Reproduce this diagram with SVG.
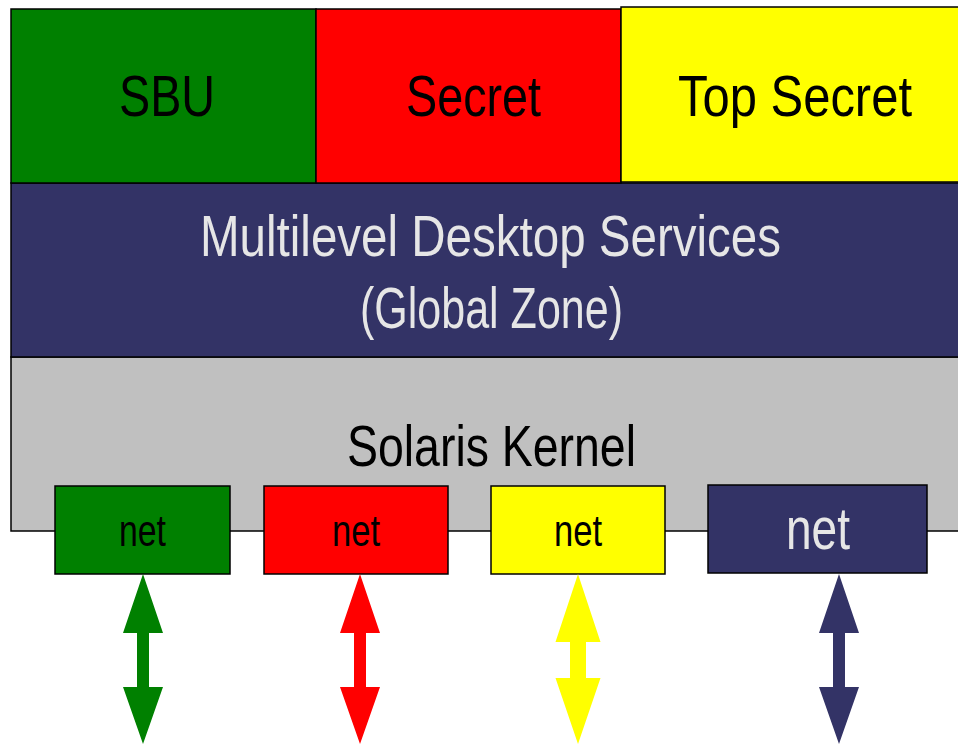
<svg xmlns="http://www.w3.org/2000/svg" width="958" height="744" viewBox="0 0 958 744">
<style>
.box{stroke:#000;stroke-width:1.5}
.t{font-family:"Liberation Sans",Arial,sans-serif;text-anchor:middle}
.dark{fill:#000}
.light{fill:#e6e6e6}
</style>
<rect width="958" height="744" fill="#fff"/>
<g id="kernel">
<rect class="box" x="11" y="357" width="960" height="174" fill="#c0c0c0"/>
<text class="t dark" x="491.5" y="466" font-size="58" textLength="289" lengthAdjust="spacingAndGlyphs">Solaris Kernel</text>
</g>
<g id="desktop">
<rect class="box" x="11" y="183" width="960" height="174" fill="#333366"/>
<text class="t light" x="490.5" y="256" font-size="58" textLength="581" lengthAdjust="spacingAndGlyphs">Multilevel Desktop Services</text>
<text class="t light" x="491.5" y="328" font-size="58" textLength="263" lengthAdjust="spacingAndGlyphs">(Global Zone)</text>
</g>
<g id="sbu">
<rect class="box" x="11" y="9" width="305" height="174" fill="#008000"/>
<text class="t dark" x="167" y="116" font-size="58" textLength="96" lengthAdjust="spacingAndGlyphs">SBU</text>
</g>
<g id="secret">
<rect class="box" x="316" y="9" width="305" height="174" fill="#ff0000"/>
<text class="t dark" x="473.5" y="116" font-size="58" textLength="135" lengthAdjust="spacingAndGlyphs">Secret</text>
</g>
<g id="topsecret">
<rect class="box" x="621" y="7" width="350" height="175" fill="#ffff00"/>
<text class="t dark" x="795" y="116" font-size="58" textLength="234" lengthAdjust="spacingAndGlyphs">Top Secret</text>
</g>
<g id="net-sbu">
<rect class="box" x="55" y="486" width="175" height="88" fill="#008000"/>
<text class="t dark" x="142.5" y="546" font-size="44" textLength="47" lengthAdjust="spacingAndGlyphs">net</text>
</g>
<g id="net-secret">
<rect class="box" x="264" y="486" width="184" height="88" fill="#ff0000"/>
<text class="t dark" x="356" y="546" font-size="44" textLength="48" lengthAdjust="spacingAndGlyphs">net</text>
</g>
<g id="net-topsecret">
<rect class="box" x="491" y="486" width="174" height="88" fill="#ffff00"/>
<text class="t dark" x="578" y="546" font-size="44" textLength="48" lengthAdjust="spacingAndGlyphs">net</text>
</g>
<g id="net-global">
<rect class="box" x="708" y="485" width="219" height="88" fill="#333366"/>
<text class="t light" x="818" y="549" font-size="60" textLength="64" lengthAdjust="spacingAndGlyphs">net</text>
</g>
<g id="connectors">
<polygon fill="#008000" points="143,574 163,633 149,633 149,687 163,687 143,744 123,687 137,687 137,633 123,633"/>
<polygon fill="#ff0000" points="360,574 380,633 366,633 366,687 380,687 360,744 340,687 354,687 354,633 340,633"/>
<polygon fill="#ffff00" points="578,574 600.5,642 586,642 586,678 600.5,678 578,744 555.5,678 570,678 570,642 555.5,642"/>
<polygon fill="#333366" points="839,574 859,633 845,633 845,687 859,687 839,744 819,687 833,687 833,633 819,633"/>
</g>
</svg>
